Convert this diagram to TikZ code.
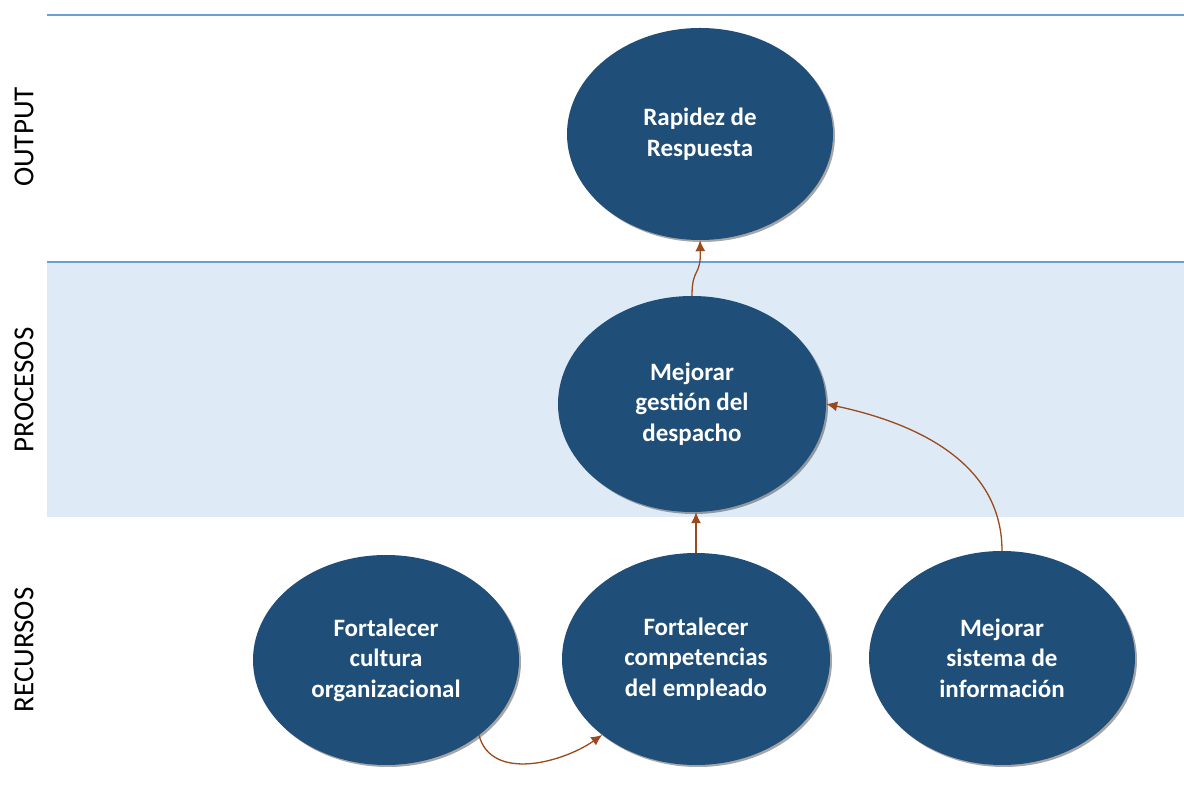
\documentclass[tikz,border=0pt]{standalone}
\usepackage{fontspec}
\setmainfont{Carlito}
\usetikzlibrary{shapes.geometric,arrows.meta,shadows}
\definecolor{ellfill}{HTML}{1F4E79}
\definecolor{bandfill}{HTML}{DEEAF6}
\definecolor{bandline}{HTML}{6A9FD8}
\definecolor{arrowc}{HTML}{9A4A1C}
\tikzset{
  goal/.style={ellipse, fill=ellfill, draw=none, inner sep=0pt,
    text=white, align=center,
    font=\fontsize{25}{30.5}\selectfont\bfseries,
    drop shadow={shadow xshift=2pt, shadow yshift=-2pt, opacity=0.35, fill=black}},
  lane/.style={rotate=90, font=\fontsize{29}{32}\selectfont, text=black, inner sep=0pt},
  arr/.style={draw=arrowc, line width=1.3pt, -{Latex[length=11pt,width=10pt]}},
}
\begin{document}
\begin{tikzpicture}[x=1pt,y=1pt]
\useasboundingbox (0,0) rectangle (1184,787);
% process band
\fill[bandfill] (47,270) rectangle (1184,525);
\draw[bandline, line width=1.5pt] (47,525) -- (1184,525);
\draw[bandline, line width=1.5pt] (47,772) -- (1184,772);
% lane labels
\node[lane] (lout) at (24,650) {OUTPUT};
\node[lane] (lpro) at (24,397) {PROCESOS};
\node[lane] (lrec) at (24,137) {RECURSOS};
% ellipses
\node[goal, minimum width=266pt, minimum height=212pt] (rap) at (700,653) {Rapidez de\\Respuesta};
\node[goal, minimum width=268pt, minimum height=216pt] (ges) at (692,383) {Mejorar\\gestión del\\despacho};
\node[goal, minimum width=266pt, minimum height=210pt] (cul) at (386,127) {Fortalecer\\cultura\\organizacional};
\node[goal, minimum width=268pt, minimum height=212pt] (com) at (696,128) {Fortalecer\\competencias\\del empleado};
\node[goal, minimum width=266pt, minimum height=214pt] (sis) at (1002,129) {Mejorar\\sistema de\\información};
% connectors
\draw[arr] (ges.north) .. controls (692,520) and (701,510) .. (rap.south);
\draw[arr] (com.north) -- (com.north |- ges.south);
\draw[arr] (sis.north) to[out=90, in=-12] (ges.east);
\draw[arr] (cul.-39) to[out=-75, in=-145] (com.-141);
\end{tikzpicture}
\end{document}
